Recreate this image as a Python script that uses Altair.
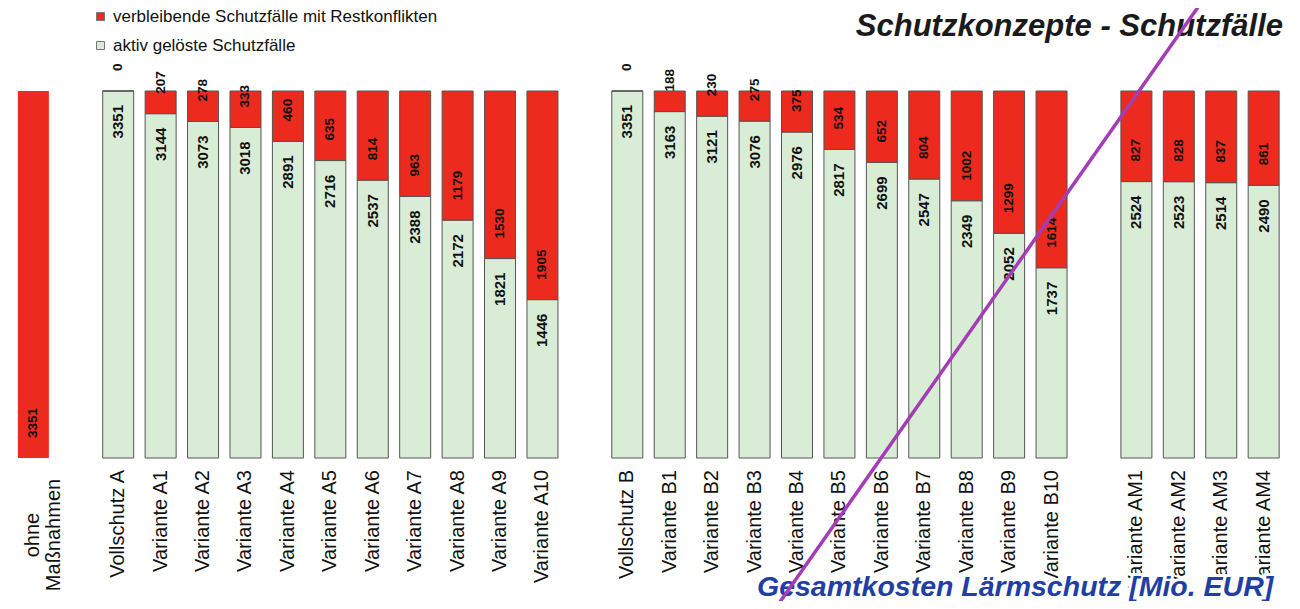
import altair as alt
import pandas as pd

# ---- data ----
group_ohne = ["ohne Maßnahmen"]
group_a = ["Vollschutz A"] + [f"Variante A{i}" for i in range(1, 11)]
group_b = ["Vollschutz B"] + [f"Variante B{i}" for i in range(1, 11)]
group_am = [f"Variante AM{i}" for i in range(1, 5)]

gelost = [0,
          3351, 3144, 3073, 3018, 2891, 2716, 2537, 2388, 2172, 1821, 1446,
          3351, 3163, 3121, 3076, 2976, 2817, 2699, 2547, 2349, 2052, 1737,
          2524, 2523, 2514, 2490]
rest = [3351,
        0, 207, 278, 333, 460, 635, 814, 963, 1179, 1530, 1905,
        0, 188, 230, 275, 375, 534, 652, 804, 1002, 1299, 1614,
        827, 828, 837, 861]

series_rest = "verbleibende Schutzfälle mit Restkonflikten"
series_gel = "aktiv gelöste Schutzfälle"
title_text = "Schutzkonzepte - Schutzfälle"
cost_text = "Gesamtkosten Lärmschutz [Mio. EUR]"

# ---- build tables ----
cats, pos = [], []
p = 0
for gi, g in enumerate([group_ohne, group_a, group_b, group_am]):
    if gi > 0:
        p += 1  # empty slot between groups
    for c in g:
        cats.append(c)
        pos.append(p)
        p += 1

rows = []
for c, x, g, r in zip(cats, pos, gelost, rest):
    rows.append({"cat": c, "pos": x, "series": series_gel, "y0": 0, "y1": g,
                 "val": g, "order": 1, "ohne": c == "ohne Maßnahmen"})
    rows.append({"cat": c, "pos": x, "series": series_rest, "y0": g, "y1": g + r,
                 "val": r, "order": 2, "ohne": c == "ohne Maßnahmen"})
seg = pd.DataFrame(rows)

lab = pd.DataFrame({"cat": cats, "pos": pos, "gel": gelost, "rest": rest,
                    "label": [c.replace("ohne ", "ohne\n") for c in cats]})

RED = "#EC2A1E"
GREEN = "#D9EDD6"
FONT = "Liberation Sans"

xs = alt.Scale(domain=[-0.48, 29.55], range=[0, 1284])
ys = alt.Scale(domain=[0, 4109], nice=False)

bars = alt.Chart(seg).mark_bar(size=31, stroke="#555555", strokeWidth=1).encode(
    x=alt.X("pos:Q", scale=xs, axis=None),
    y=alt.Y("y0:Q", scale=ys, axis=None),
    y2="y1:Q",
    color=alt.Color("series:N",
                    scale=alt.Scale(domain=[series_rest, series_gel], range=[RED, GREEN]),
                    legend=alt.Legend(orient="none", legendX=84, legendY=0, title=None,
                                      symbolType="square", symbolSize=64,
                                      symbolStrokeColor="#777777", symbolStrokeWidth=1,
                                      labelFont=FONT, labelFontSize=17, labelColor="#111111",
                                      labelLimit=0, rowPadding=11, labelOffset=4)),
    strokeOpacity=alt.condition("datum.ohne", alt.value(0), alt.value(1)),
    order="order:Q",
)

red_labels = alt.Chart(lab).mark_text(angle=270, align="left", baseline="middle", dx=20,
                                      font=FONT, fontSize=13.5, fontWeight="bold",
                                      color="#111111").encode(
    x=alt.X("pos:Q", scale=xs),
    y=alt.Y("gel:Q", scale=ys),
    text="rest:Q",
)

green_labels = alt.Chart(lab).transform_filter("datum.gel > 0").mark_text(
    angle=270, align="right", baseline="middle", dx=-14,
    font=FONT, fontSize=15, fontWeight="bold", color="#111111").encode(
    x=alt.X("pos:Q", scale=xs),
    y=alt.Y("gel:Q", scale=ys),
    text="gel:Q",
)

cat_labels = alt.Chart(lab).transform_filter("datum.cat != 'ohne Maßnahmen'").mark_text(
    angle=270, align="right", baseline="middle", font=FONT, fontSize=20,
    color="#111111").encode(
    x=alt.X("pos:Q", scale=xs),
    y=alt.value(462),
    text="label:N",
)

ohne_label = alt.Chart(lab).transform_filter("datum.cat == 'ohne Maßnahmen'").mark_text(
    angle=270, align="center", baseline="middle", font=FONT, fontSize=20,
    lineBreak="\n", lineHeight=21, color="#111111").encode(
    x=alt.X("pos:Q", scale=xs),
    y=alt.value(527),
    text="label:N",
)

title = alt.Chart(pd.DataFrame({"t": [title_text]})).mark_text(
    align="right", baseline="alphabetic", font=FONT, fontSize=31, fontWeight="bold",
    fontStyle="italic", color="#1a1a1a").encode(
    x=alt.value(1275), y=alt.value(28), text="t:N")

cost_df = pd.DataFrame({"t": [cost_text]})
cost_halo = alt.Chart(cost_df).mark_text(
    align="left", baseline="alphabetic", font=FONT, fontSize=28.5, fontWeight="bold",
    fontStyle="italic", color="white", stroke="white", strokeWidth=6).encode(
    x=alt.value(749), y=alt.value(588), text="t:N")
cost = alt.Chart(cost_df).mark_text(
    align="left", baseline="alphabetic", font=FONT, fontSize=28.5, fontWeight="bold",
    fontStyle="italic", color="#1F3FA5").encode(
    x=alt.value(749), y=alt.value(588), text="t:N")

line = alt.Chart(pd.DataFrame({"d": [0]})).mark_rule(color="#A43DB5", strokeWidth=3.5).encode(
    x=alt.value(1195), x2=alt.value(767), y=alt.value(-8), y2=alt.value(601))

chart = alt.layer(bars, red_labels, green_labels, cat_labels, ohne_label, title,
                  cost_halo, cost, line).properties(
    width=1284, height=450,
    padding={"left": 0, "top": 0, "right": 0, "bottom": 143},
    autosize=alt.AutoSizeParams(type="none"),
).configure_view(stroke=None)

chart.save("out.html", embed_options={"renderer": "svg", "actions": False})
